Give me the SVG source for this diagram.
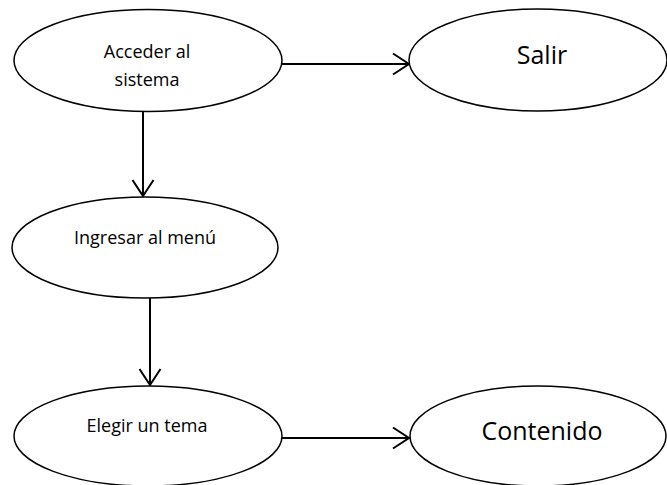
<svg xmlns="http://www.w3.org/2000/svg" width="667" height="485" viewBox="0 0 667 485">
  <style>
    .node ellipse { fill: #ffffff; stroke: #000000; stroke-width: 1.5; }
    .label { font-family: "Open Sans", "Liberation Sans", sans-serif; fill: #000000; text-anchor: middle; }
    .small { font-size: 18px; }
    .big { font-size: 25px; }
    .edge { stroke: #000000; stroke-width: 2; fill: none; marker-end: url(#open); }
  </style>
  <defs>
    <marker id="open" viewBox="0 0 20 24" refX="18" refY="12" markerWidth="20" markerHeight="24" markerUnits="userSpaceOnUse" orient="auto">
      <polyline points="2,1.5 18,12 2,22.5" fill="none" stroke="#000000" stroke-width="2"/>
    </marker>
  </defs>

  <g id="connectors">
    <line class="edge" x1="282" y1="64" x2="409" y2="64"/>
    <line class="edge" x1="143" y1="111" x2="143" y2="196"/>
    <line class="edge" x1="150" y1="298" x2="150" y2="385"/>
    <line class="edge" x1="281" y1="438" x2="409" y2="438"/>
  </g>

  <g id="acceder" class="node">
    <ellipse cx="148" cy="60.5" rx="134" ry="51"/>
    <text class="label small" x="147" y="58">Acceder al</text>
    <text class="label small" x="147" y="86">sistema</text>
  </g>

  <g id="salir" class="node">
    <ellipse cx="538" cy="60" rx="129" ry="51"/>
    <text class="label big" x="542" y="64">Salir</text>
  </g>

  <g id="ingresar" class="node">
    <ellipse cx="145" cy="247.5" rx="133" ry="50.5"/>
    <text class="label small" x="145" y="244">Ingresar al menú</text>
  </g>

  <g id="elegir" class="node">
    <ellipse cx="148" cy="436" rx="134" ry="50"/>
    <text class="label small" x="147" y="432">Elegir un tema</text>
  </g>

  <g id="contenido" class="node">
    <ellipse cx="538" cy="436" rx="128" ry="50"/>
    <text class="label big" x="542" y="440">Contenido</text>
  </g>
</svg>
